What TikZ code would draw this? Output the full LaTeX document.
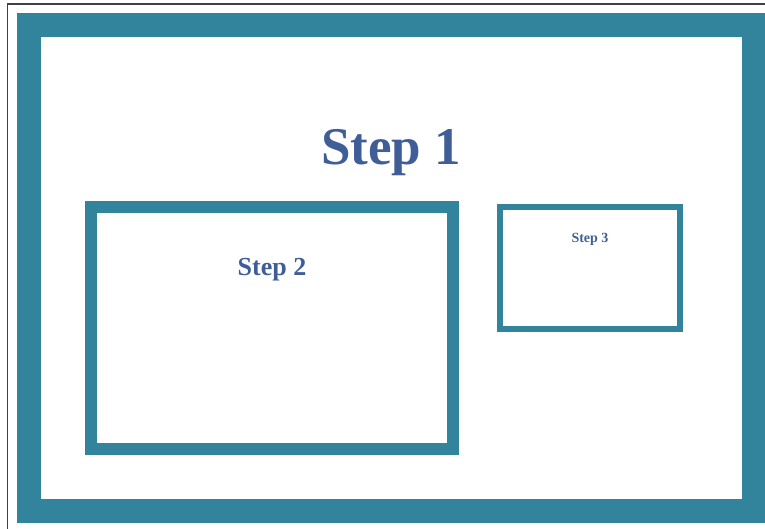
\documentclass[tikz,border=0pt]{standalone}
\usepackage{fontspec}
\setmainfont{Liberation Serif}
\definecolor{frameteal}{HTML}{31849B}
\definecolor{steptext}{HTML}{3F5E98}
\begin{document}
\begin{tikzpicture}[x=1pt,y=-1pt,
  framebox/.style={draw=frameteal, inner sep=0pt, outer sep=0pt},
  steplabel/.style={text=steptext, inner sep=0pt, anchor=base}]
\useasboundingbox (0,0) rectangle (765,529);
\begin{scope}
\clip (0,0) rectangle (765,529);
\node[draw=black!75, line width=1.8pt, inner sep=0pt, minimum width=800pt, minimum height=560pt, anchor=north west] (page) at (6.5,3.5) {};
\node[framebox, line width=24pt, minimum width=724.5pt, minimum height=485.5pt] (box1) at (391.25,267.75) {};
\end{scope}
\node[framebox, line width=12pt, minimum width=362pt, minimum height=242pt] (box2) at (272,328) {};
\node[framebox, line width=6pt, minimum width=180pt, minimum height=122pt] (box3) at (590,268) {};
\node[steplabel, font=\fontsize{53}{60}\selectfont\bfseries] (label1) at (391,165) {Step 1};
\node[steplabel, font=\fontsize{26}{30}\selectfont\bfseries] (label2) at (272,275) {Step 2};
\node[steplabel, font=\fontsize{14}{16}\selectfont\bfseries] (label3) at (590,243) {Step 3};
\end{tikzpicture}
\end{document}
